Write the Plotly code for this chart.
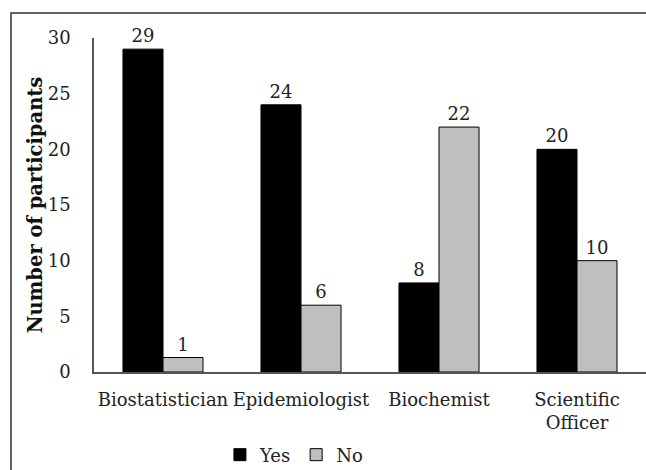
import plotly.graph_objects as go

categories = ["Biostatistician", "Epidemiologist", "Biochemist", "Scientific<br>Officer"]
yes_values = [29, 24, 8, 20]
no_values = [1.3, 6, 22, 10]
y_ticks = [0, 5, 10, 15, 20, 25, 30]

FONT = "DejaVu Serif"
FS = 18

fig = go.Figure()
fig.add_trace(go.Bar(
    name="Yes", x=categories, y=yes_values,
    marker=dict(color="#000000", line=dict(color="#000000", width=1)),
    texttemplate="%{y:.0f}", textposition="outside",
    textfont=dict(family=FONT, size=FS, color="#222222"),
    cliponaxis=False,
))
fig.add_trace(go.Bar(
    name="No", x=categories, y=no_values,
    marker=dict(color="#bfbfbf", line=dict(color="#000000", width=1)),
    texttemplate="%{y:.0f}", textposition="outside",
    textfont=dict(family=FONT, size=FS, color="#222222"),
    cliponaxis=False,
))

fig.update_layout(
    width=646, height=470,
    margin=dict(l=94, r=0, t=38, b=98),
    paper_bgcolor="white", plot_bgcolor="white",
    barmode="group", bargap=0.42, bargroupgap=0,
    font=dict(family=FONT, size=FS, color="#222222"),
    showlegend=True,
    legend=dict(orientation="h", xref="container", yref="container",
                x=0.455, y=0.032, xanchor="center", yanchor="middle",
                font=dict(family=FONT, size=FS, color="#222222"),
                itemwidth=30, traceorder="normal"),
    shapes=[dict(type="rect", xref="paper", yref="paper",
                 x0=-83/552, x1=1.05, y0=-0.5, y1=(372 - 13) / 334,
                 line=dict(color="#333333", width=1.5), fillcolor="rgba(0,0,0,0)",
                 layer="below")],
)
fig.update_xaxes(showline=True, linecolor="#555555", linewidth=2,
                 ticks="", showgrid=False, ticklabelstandoff=10,
                 tickangle=0, automargin=False,
                 tickfont=dict(family=FONT, size=FS, color="#222222"))
fig.update_yaxes(range=[0, 30], tickvals=y_ticks, showline=True, linecolor="#555555",
                 linewidth=1.5, ticks="", showgrid=False, zeroline=False,
                 ticklabelstandoff=18, automargin=False,
                 tickfont=dict(family=FONT, size=FS, color="#222222"),
                 title=dict(text="<b>Number of participants</b>", standoff=0,
                            font=dict(family=FONT, size=19.5, color="#111111")))

fig.write_html("out.html")
